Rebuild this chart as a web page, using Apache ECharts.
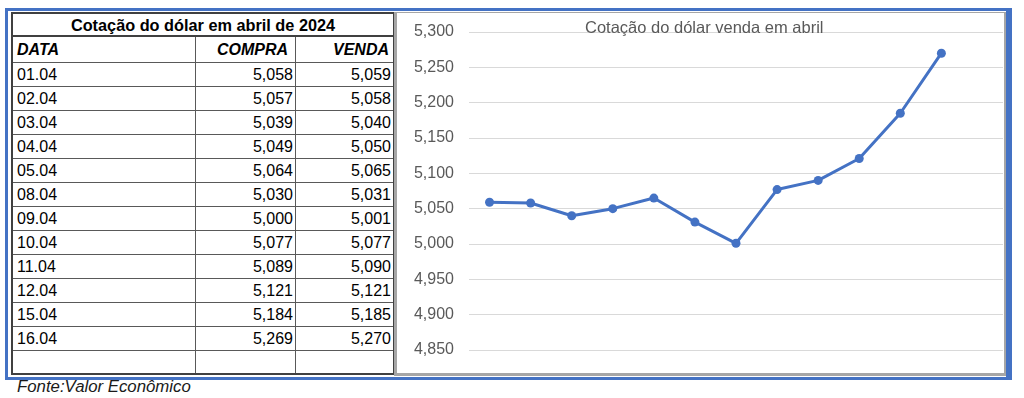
<!DOCTYPE html>
<html>
<head>
<meta charset="utf-8">
<script src="https://cdn.jsdelivr.net/npm/echarts@6/dist/echarts.min.js"></script>
<style>
html,body{margin:0;padding:0;background:#fff;width:1024px;height:398px;overflow:hidden;font-family:"Liberation Sans",Arial,sans-serif;}
#frame{position:absolute;left:5px;top:8px;width:998px;height:366px;border-style:solid;border-color:#4472C4;border-width:3px 6px 3px 3px;}
#table{position:absolute;left:11px;top:12px;width:383px;height:363px;box-sizing:border-box;border:2px solid #404040;border-right:1px solid #404040;}
.row{position:absolute;left:0;width:380px;box-sizing:border-box;}
.cell{position:absolute;top:0;box-sizing:border-box;font-size:16px;color:#000;white-space:nowrap;}
#chartbox{position:absolute;left:394px;top:12px;width:612px;height:364px;box-sizing:border-box;border-style:solid;border-color:#A6A6A6;border-width:1px 2px 3px 3px;background:#fff;}
#chart{position:absolute;left:0;top:0;width:607px;height:360px;}
#fonte{position:absolute;left:17px;top:378px;font-size:16.8px;line-height:18px;font-style:italic;color:#1a1a1a;}
</style>
</head>
<body>
<div id="frame"></div>
<div id="table"></div>
<div id="chartbox"><div id="chart"></div></div>
<div id="fonte">Fonte:Valor Econômico</div>
<script>
// ---- data ----
const tableTitle = 'Cotação do dólar em abril de 2024';
const headers = ['DATA', 'COMPRA', 'VENDA'];
const dates = ['01.04','02.04','03.04','04.04','05.04','08.04','09.04','10.04','11.04','12.04','15.04','16.04'];
const compra = [5.058, 5.057, 5.039, 5.049, 5.064, 5.030, 5.000, 5.077, 5.089, 5.121, 5.184, 5.269];
const venda  = [5.059, 5.058, 5.040, 5.050, 5.065, 5.031, 5.001, 5.077, 5.090, 5.121, 5.185, 5.270];
const chartTitle = 'Cotação do dólar venda em abril';
const yMin = 4.85, yMax = 5.30, yStep = 0.05;

function fmt(v){ return v.toFixed(3).replace('.', ','); }

// ---- table ----
const tbl = document.getElementById('table');
const colDefs = [{left:0,width:183},{left:183,width:100},{left:283,width:97}];
function addRow(top, height, border, texts, opts){
  const r = document.createElement('div');
  r.className = 'row';
  r.style.top = top + 'px';
  r.style.height = height + 'px';
  if (border) r.style.borderBottom = '1px solid #595959';
  const lh = height - (border ? 1 : 0);
  colDefs.forEach((c, i) => {
    const d = document.createElement('div');
    d.className = 'cell';
    d.style.left = c.left + 'px';
    d.style.width = c.width + 'px';
    d.style.height = lh + 'px';
    d.style.lineHeight = lh + 'px';
    if (i < 2) d.style.borderRight = '1px solid #595959';
    if (i === 0) { d.style.textAlign = 'left'; d.style.paddingLeft = '4px'; }
    else { d.style.textAlign = 'right'; d.style.paddingRight = (opts.header ? (i===1?7:4) : 2) + 'px'; }
    if (opts.header) { d.style.fontWeight = 'bold'; d.style.fontStyle = 'italic'; }
    d.textContent = texts[i] || '';
    r.appendChild(d);
  });
  tbl.appendChild(r);
}
// title row
const t = document.createElement('div');
t.className = 'row';
t.style.top = '0px'; t.style.height = '23px';
t.style.borderBottom = '2px solid #404040';
t.style.textAlign = 'center'; t.style.fontWeight = 'bold'; t.style.fontSize = '16.3px';
t.style.lineHeight = '23px'; t.style.color = '#000';
t.textContent = tableTitle;
tbl.appendChild(t);
// header row
addRow(23, 26, true, headers, {header:true});
// data rows
for (let i = 0; i < dates.length; i++) {
  addRow(49 + 24*i, 24, true, [dates[i], fmt(compra[i]), fmt(venda[i])], {});
}
// empty row
addRow(49 + 24*dates.length, 22, false, ['', '', ''], {});

// ---- chart ----
const categories = dates.concat(['']);
const values = venda.concat([null]);
const chart = echarts.init(document.getElementById('chart'), null, {renderer:'canvas'});
chart.setOption({
  animation: false,
  backgroundColor: '#fff',
  title: {
    text: chartTitle,
    left: 188, top: 5, padding: 0,
    textStyle: {fontSize: 16.5, fontWeight: 'normal', color: '#595959', fontFamily: '"Liberation Sans", Arial, sans-serif', lineHeight: 20}
  },
  grid: {left: 72, right: 1, top: 19, bottom: 23, containLabel: false},
  xAxis: {
    type: 'category', data: categories, boundaryGap: true,
    axisLine: {show: false}, axisTick: {show: false}, axisLabel: {show: false}, splitLine: {show: false}
  },
  yAxis: {
    type: 'value', min: yMin, max: yMax, interval: yStep,
    axisLine: {show: false}, axisTick: {show: false},
    axisLabel: {margin: 15, fontSize: 16, color: '#595959', fontFamily: '"Liberation Sans", Arial, sans-serif', formatter: v => fmt(v)},
    splitLine: {show: true, lineStyle: {color: '#D9D9D9', width: 1}}
  },
  series: [{
    type: 'line', data: values, symbol: 'circle', symbolSize: 9,
    lineStyle: {color: '#4472C4', width: 3},
    itemStyle: {color: '#4472C4'},
    connectNulls: false
  }]
});
</script>
</body>
</html>
